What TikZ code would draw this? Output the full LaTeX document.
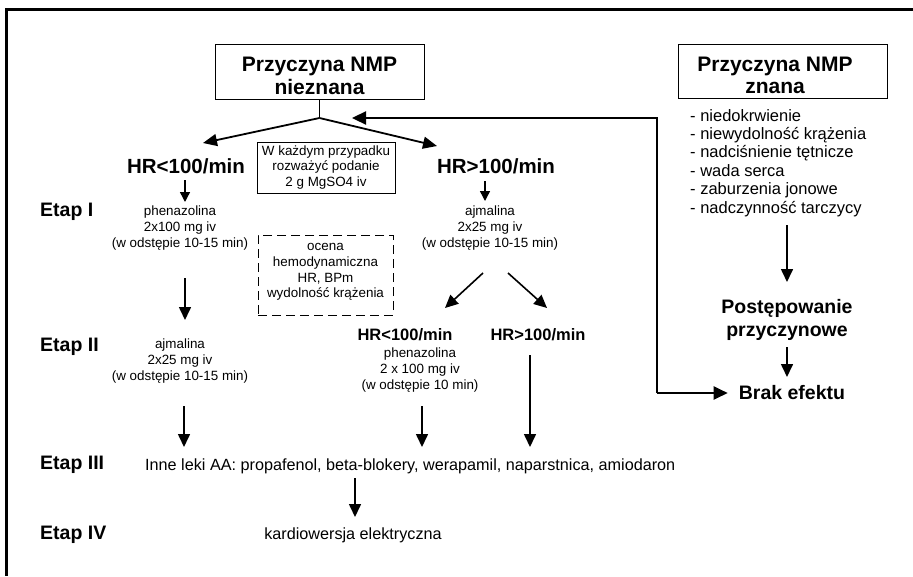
\documentclass[tikz,border=0pt]{standalone}
\usepackage{fontspec}
\setmainfont{Liberation Sans}
\usetikzlibrary{arrows.meta}
\begin{document}
\begin{tikzpicture}[x=1pt,y=-1pt,
  txt/.style={font=\fontsize{13.4}{15.8}\selectfont, align=center, inner sep=0pt},
  txtl/.style={font=\fontsize{16.2}{18}\selectfont, inner sep=0pt},
  lst/.style={font=\fontsize{16.5}{18.4}\selectfont, align=left, inner sep=0pt},
  ttl/.style={font=\bfseries\fontsize{21}{22.5}\selectfont, align=center, inner sep=0pt},
  hr/.style={font=\bfseries\fontsize{20.5}{22}\selectfont, inner sep=0pt},
  hrs/.style={font=\bfseries\fontsize{16.5}{18}\selectfont, inner sep=0pt},
  etap/.style={font=\bfseries\fontsize{19.5}{21}\selectfont, anchor=west, inner sep=0pt},
  big/.style={font=\bfseries\fontsize{19.5}{23}\selectfont, align=center, inner sep=0pt},
  boxed/.style={draw, line width=1pt, inner sep=0pt},
  arr/.style={line width=1.6pt, -{Triangle[length=13pt,width=12pt]}},
  sarr/.style={line width=1.4pt, -{Triangle[length=10pt,width=10pt]}},
  branch/.style={line width=1.8pt, -{Triangle[length=14pt,width=12pt]}},
  fb/.style={line width=2.3pt, -{Triangle[length=14pt,width=13pt]}},
]
\useasboundingbox (0,0) rectangle (913,576);

% outer frame (top and left edges)
\draw[line width=3pt] (913,9) -- (6,9) -- (6,576);

% ---------- unknown cause branch ----------
\node[boxed, minimum width=209pt, minimum height=55pt] (nzbox) at (319.5,71.5) {};
\node[ttl] (nz) at (319.5,76) {Przyczyna NMP\\nieznana};
\coordinate (nzb) at (319.5,99);
\coordinate (junc) at (319.5,118);
\coordinate (lotip) at (203,143);
\coordinate (hitip) at (437,146);
\draw[line width=1.2pt] (nzb) -- (junc);
\draw[branch] (junc) -- (lotip);
\draw[branch] (junc) -- (hitip);

\node[hr] (hrlo) at (186,166) {HR<100/min};
\node[hr] (hrhi) at (496,166) {HR>100/min};

\node[boxed, txt, minimum width=138pt, minimum height=51pt] (mg) at (326,167.5)
  {W każdym przypadku\\rozważyć podanie\\2 g MgSO4 iv};

\coordinate (a1s) at (185,180); \coordinate (a1e) at (185,202);
\coordinate (a2s) at (485,181); \coordinate (a2e) at (485,201);
\draw[sarr] (a1s) -- (a1e);
\draw[sarr] (a2s) -- (a2e);

% stage labels
\node[etap] (e1) at (40,212) {Etap I};
\node[etap] (e2) at (40,347) {Etap II};
\node[etap] (e3) at (40,465) {Etap III};
\node[etap] (e4) at (40,535) {Etap IV};

% stage I
\node[txt] (ph1) at (180,228) {phenazolina\\2x100 mg iv\\(w odstępie 10-15 min)};
\node[txt] (aj2) at (490,228) {ajmalina\\2x25 mg iv\\(w odstępie 10-15 min)};

% haemodynamic assessment
\node[boxed, dashed, dash pattern=on 9pt off 5pt, minimum width=135pt, minimum height=80pt] (ocbox) at (325.5,275) {};
\node[txt] (oc) at (325.5,272) {ocena\\hemodynamiczna\\HR, BPm\\wydolność krążenia};

\coordinate (b1s) at (185,278); \coordinate (b1e) at (185,320);
\draw[arr] (b1s) -- (b1e);

\coordinate (dls) at (483,273); \coordinate (dle) at (445,308);
\coordinate (drs) at (508,273); \coordinate (dre) at (547,308);
\draw[arr] (dls) -- (dle);
\draw[arr] (drs) -- (dre);

% stage II
\node[txt] (aj1) at (180,361) {ajmalina\\2x25 mg iv\\(w odstępie 10-15 min)};
\node[hrs] (hrlo2) at (405,335) {HR<100/min};
\node[hrs] (hrhi2) at (538,335) {HR>100/min};
\node[txt] (ph2) at (420,370) {phenazolina\\2 x 100 mg iv\\(w odstępie 10 min)};

\coordinate (c1s) at (184,406); \coordinate (c1e) at (184,447);
\coordinate (c2s) at (422,406); \coordinate (c2e) at (422,447);
\coordinate (c3s) at (530,355); \coordinate (c3e) at (530,447);
\draw[arr] (c1s) -- (c1e);
\draw[arr] (c2s) -- (c2e);
\draw[arr] (c3s) -- (c3e);

% stage III and IV
\node[txtl, anchor=west] (aa) at (145,466)
  {Inne leki AA: propafenol, beta-blokery, werapamil, naparstnica, amiodaron};
\coordinate (d1s) at (355,478); \coordinate (d1e) at (355,517);
\draw[arr] (d1s) -- (d1e);
\node[txtl] (kw) at (353,535) {kardiowersja elektryczna};

% ---------- known cause branch ----------
\node[boxed, minimum width=209pt, minimum height=54pt] (znbox) at (782.5,71) {};
\node[ttl] (zn) at (775,75.5) {Przyczyna NMP\\znana};
\node[lst, anchor=north west] (ls) at (690,109)
  {- niedokrwienie\\- niewydolność krążenia\\- nadciśnienie tętnicze\\- wada serca\\- zaburzenia jonowe\\- nadczynność tarczycy};

\coordinate (r1s) at (787,225); \coordinate (r1e) at (787,282);
\draw[arr] (r1s) -- (r1e);
\node[big] (post) at (787,320) {Postępowanie\\przyczynowe};
\coordinate (r2s) at (787,347); \coordinate (r2e) at (787,377);
\draw[arr] (r2s) -- (r2e);
\node[big] (brak) at (792,393) {Brak efektu};

% feedback loop
\coordinate (fbc) at (657,393);
\coordinate (fbt) at (657,118);
\coordinate (fbe) at (352,118);
\draw[fb] (fbc) -- ([xshift=-11pt]brak.west);
\draw[fb] (fbc) -- (fbt) -- (fbe);
\end{tikzpicture}
\end{document}
